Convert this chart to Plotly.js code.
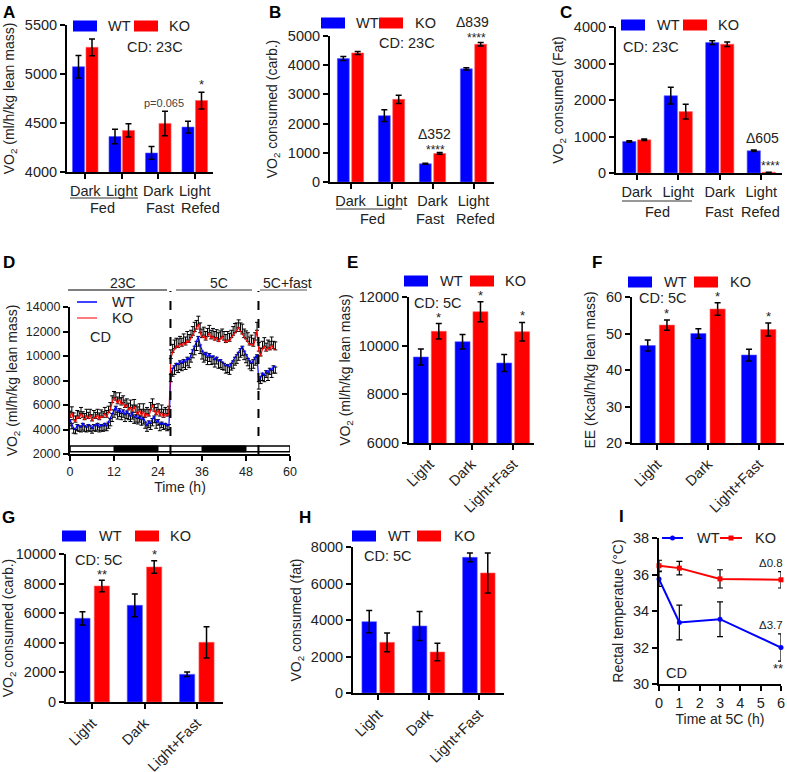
<!DOCTYPE html>
<html>
<head>
<meta charset="utf-8">
<script src="https://cdn.plot.ly/plotly-3.0.1.min.js"></script>
<style>html,body{margin:0;padding:0;background:#fff;}#chart{width:787px;height:772px;}</style>
</head>
<body>
<div id="chart"></div>
<script>
// ---------------- DATA ----------------
// Panel A: VO2 at 23C
const catsA = ['Dark', 'Light', 'Dark', 'Light'];
const groupsABC = ['Fed', 'Fast', 'Refed'];
const wtA = [5075, 4362, 4194, 4458];
const wtAErr = [115, 75, 65, 60];
const koA = [5272, 4424, 4496, 4729];
const koAErr = [85, 68, 125, 85];
// Panel B: VO2 consumed (carb.)
const wtB = [4227, 2273, 625, 3875];
const wtBErr = [70, 200, 20, 40];
const koB = [4420, 2830, 977, 4716];
const koBErr = [50, 140, 30, 60];
// Panel C: VO2 consumed (Fat)
const wtC = [864, 2118, 3573, 609];
const wtCErr = [20, 230, 50, 20];
const koC = [909, 1682, 3527, 20];
const koCErr = [20, 200, 60, 0];
// Panel D: time course
const timeD = [0,0.5,1,1.5,2,2.5,3,3.5,4,4.5,5,5.5,6,6.5,7,7.5,8,8.5,9,9.5,10,10.5,11,11.5,12,12.5,13,13.5,14,14.5,15,15.5,16,16.5,17,17.5,18,18.5,19,19.5,20,20.5,21,21.5,22,22.5,23,23.5,24,24.5,25,25.5,26,26.5,27,
27.5,28,28.5,29,29.5,30,30.5,31,31.5,32,32.5,33,33.5,34,34.5,35,35.5,36,36.5,37,37.5,38,38.5,39,39.5,40,40.5,41,41.5,42,42.5,43,43.5,44,44.5,45,45.5,46,46.5,47,47.5,48,48.5,49,49.5,50,50.5,51,
51.5,52,52.5,53,53.5,54,54.5,55,55.5,56];
const wtD = [4800,4500,4100,4000,4400,4300,4200,4500,4300,4200,4400,4300,4100,4400,4300,4500,4200,4400,4300,4500,4300,4600,4900,5300,5600,5900,5400,5700,5300,5600,5200,5500,5300,5100,5400,5000,5200,4900,5100,4800,5000,4600,4300,4700,4500,4900,5100,4600,4800,4400,4600,4400,4500,4300,4400,
8500,9000,9200,9400,9300,9600,9400,9700,9500,9900,9700,10200,10500,10800,11200,11600,10900,10400,10100,10300,9900,10200,9900,10000,9700,9900,9600,9700,9500,9400,9200,9300,9100,9400,9600,9900,10100,10300,10600,10800,10400,10100,9800,9600,9400,9700,9900,10100,
7900,8300,8600,8400,8800,8600,9000,8800,9200,9100];
const wtDErr = [500,450,400,350,500,450,400,550,450,400,500,450,400,500,450,550,400,500,450,550,400,500,600,650,600,700,550,650,500,600,550,600,500,450,550,500,600,450,500,450,550,500,450,550,500,600,550,500,450,500,450,400,450,400,400,
600,650,700,600,650,700,600,650,600,700,650,700,650,700,750,800,700,650,600,650,600,650,600,650,600,550,600,650,600,550,600,650,600,550,600,650,700,650,700,750,700,650,600,650,600,700,650,700,
600,550,600,500,550,600,500,550,600,500];
const koD = [5000,5400,4800,4600,5100,4900,5300,5000,4800,5100,4900,5200,4700,5000,4900,5200,4800,5100,5000,5300,5000,5400,5600,6200,6600,6400,6100,6500,6000,6200,5800,6000,5600,5800,5500,5900,5400,5200,5600,5100,5500,5000,5300,5100,5600,6000,5500,5200,5600,5100,5400,5000,5300,5100,5300,
9800,10300,10600,10800,10700,11000,10800,11100,10900,11300,11100,11500,11700,12000,12200,12600,11900,11500,11700,11300,11600,11900,11400,11600,11300,11500,11200,11400,11600,11300,11100,11300,11200,11500,11700,11900,12000,12300,12000,11800,11500,11400,11200,10900,11000,10800,11300,12100,
10400,10000,10600,10800,10400,10700,10500,10900,10600,10500];
const koDErr = [500,450,550,500,450,550,500,450,500,550,500,450,500,550,500,450,550,500,450,500,550,500,600,550,500,600,550,500,600,550,600,500,550,600,500,550,600,650,500,550,600,650,500,550,600,500,550,600,500,550,600,650,500,550,600,
700,650,700,650,700,600,650,700,650,700,650,600,700,750,700,650,800,700,650,700,650,600,700,650,700,650,700,650,600,700,650,700,650,600,700,750,700,650,700,800,700,650,700,650,700,650,600,650,
700,650,600,700,650,600,700,650,600,650];
const darkPhasesD = [[12, 24], [36, 48]];
const phaseLabelsD = ['23C', '5C', '5C+fast'];
const phaseSwitchD = [27.4, 51.4];
// Panels E-H: 5C
const cats5C = ['Light', 'Dark', 'Light+Fast'];
const wtE = [9534, 10164, 9288];
const wtEErr = [330, 300, 350];
const koE = [10589, 11397, 10575];
const koEErr = [320, 410, 380];
const wtF = [46.7, 50.0, 44.1];
const wtFErr = [1.5, 1.3, 1.6];
const koF = [52.3, 56.7, 51.1];
const koFErr = [1.4, 1.7, 1.8];
const wtG = [5653, 6532, 1870];
const wtGErr = [450, 770, 150];
const koG = [7838, 9122, 4032];
const koGErr = [390, 430, 1060];
const wtH = [3909, 3671, 7434];
const wtHErr = [610, 790, 240];
const koH = [2776, 2247, 6575];
const koHErr = [510, 480, 1100];
// Panel I: rectal temperature
const timeI = [0, 1, 3, 6];
const wtI = [35.75, 33.37, 33.55, 32.0];
const wtIErr = [0.4, 0.95, 0.95, 0.75];
const koI = [36.48, 36.35, 35.76, 35.71];
const koIErr = [0.3, 0.37, 0.5, 0.45];

// ---------------- STYLE / HELPERS ----------------
const W = 787, H = 772;
const BLUE = '#0000FF', RED = '#FF0000', TXT = '#222222';
const FONT = 'Arial, "Liberation Sans", sans-serif';
const TICK = 14.5, LEG = 14.5;
const px = (a, b) => [a / W, b / W];
const py = (top, bottom) => [1 - bottom / H, 1 - top / H];
const X = v => v / W;
const Y = v => 1 - v / H;

const annotations = [];
const shapes = [];
const traces = [];

function label(x, y, text, size, opts) {
  annotations.push(Object.assign({
    xref: 'paper', yref: 'paper', x: X(x), y: Y(y), text: text, showarrow: false,
    xanchor: 'center', yanchor: 'middle', font: {family: FONT, size: size || 14, color: TXT}
  }, opts || {}));
}
function rectPx(x0, y0, x1, y1, color) {
  shapes.push({type: 'rect', xref: 'paper', yref: 'paper', x0: X(x0), x1: X(x1), y0: Y(y1), y1: Y(y0),
    fillcolor: color, line: {width: 0}});
}
function linePx(x0, y0, x1, y1, color, width, dash) {
  shapes.push({type: 'line', xref: 'paper', yref: 'paper', x0: X(x0), x1: X(x1), y0: Y(y0), y1: Y(y1),
    line: {color: color || '#000', width: width || 1.5, dash: dash || 'solid'}});
}
function barLegend(bx, wx, rx, kx, y) {
  rectPx(bx, y - 5.5, bx + 24, y + 5.5, BLUE);
  label(wx, y, 'WT', LEG, {xanchor: 'left'});
  rectPx(rx, y - 5.5, rx + 24, y + 5.5, RED);
  label(kx, y, 'KO', LEG, {xanchor: 'left'});
}
function axSuffix(n) { return n === 1 ? '' : String(n); }

function barPair(n, cats, wt, wtErr, ko, koErr, w, g) {
  const xs = cats.map((_, i) => i);
  const s = axSuffix(n);
  const eb = arr => ({type: 'data', array: arr, color: '#000', thickness: 1.5, width: 3});
  traces.push({type: 'bar', name: 'WT', x: xs, y: wt, width: w, offset: -(w + g / 2),
    marker: {color: BLUE, line: {color: '#5a5aff', width: 0.6}}, error_y: eb(wtErr),
    xaxis: 'x' + s, yaxis: 'y' + s, showlegend: false, hoverinfo: 'y'});
  traces.push({type: 'bar', name: 'KO', x: xs, y: ko, width: w, offset: g / 2,
    marker: {color: RED, line: {color: '#ff6060', width: 0.6}}, error_y: eb(koErr),
    xaxis: 'x' + s, yaxis: 'y' + s, showlegend: false, hoverinfo: 'y'});
  return {wtC: -(w + g) / 2, koC: (w + g) / 2};
}
function starAt(n, xval, yval, text, size, yshift) {
  const s = axSuffix(n);
  annotations.push({xref: 'x' + s, yref: 'y' + s, x: xval, y: yval, text: text, showarrow: false,
    xanchor: 'center', yanchor: 'bottom', yshift: yshift === undefined ? 0 : yshift,
    font: {family: FONT, size: size || 13, color: TXT}});
}

const baseAxis = {
  showline: true, linecolor: '#000', linewidth: 2, mirror: false,
  ticks: 'outside', ticklen: 5, tickwidth: 2, tickcolor: '#000',
  showgrid: false, zeroline: false, fixedrange: true,
  tickformat: 'd', exponentformat: 'none', separatethousands: false,
  tickfont: {family: FONT, size: TICK, color: TXT}
};
function ax(extra) { return Object.assign({}, baseAxis, extra); }
function ytitle(text, standoff, size) {
  return {text: text, standoff: standoff, font: {family: FONT, size: size || 14, color: TXT}};
}

const layout = {
  width: W, height: H, margin: {l: 0, r: 0, t: 0, b: 0},
  paper_bgcolor: '#fff', plot_bgcolor: 'rgba(0,0,0,0)',
  showlegend: false, barmode: 'overlay',
  font: {family: FONT, color: TXT},
  annotations: annotations, shapes: shapes
};

const idx4 = catsA.map((_, i) => i);
const idx3 = cats5C.map((_, i) => i);

// ---- Panel A ----
layout.xaxis = ax({domain: px(67, 213), anchor: 'y', range: [-0.5, 3.5], tickvals: idx4, ticktext: catsA});
layout.yaxis = ax({domain: py(25, 172), anchor: 'x', range: [4000, 5500], dtick: 500,
  title: ytitle('VO<sub>2</sub> (ml/h/kg lean mass)', 7)});
let cA = barPair(1, catsA, wtA, wtAErr, koA, koAErr, 0.33, 0.04);
label(164, 103, 'p=0.065', 11, {font: {family: FONT, size: 11, color: '#444'}});
starAt(1, 3 + cA.koC, koA[3] + koAErr[3], '*', 13, -2);
barLegend(73, 106, 134, 167, 26);
label(155, 47, 'CD: 23C', 14.5);

// ---- Panel B ----
layout.xaxis2 = ax({domain: px(330, 494), anchor: 'y2', range: [-0.5, 3.5], tickvals: idx4, ticktext: catsA});
layout.yaxis2 = ax({domain: py(36, 182), anchor: 'x2', range: [0, 5000], dtick: 1000,
  title: ytitle('VO<sub>2</sub> consumed (carb.)', 7)});
barPair(2, catsA, wtB, wtBErr, koB, koBErr, 0.29, 0.06);
label(435, 150, '****', 12);
label(434, 134, '\u0394352', 14);
label(476, 38, '****', 12);
label(472, 22, '\u0394839', 14);
barLegend(321, 354, 379, 413, 23);
label(407, 43, 'CD: 23C', 14.5);

// ---- Panel C ----
layout.xaxis3 = ax({domain: px(616, 782), anchor: 'y3', range: [-0.5, 3.5], tickvals: idx4, ticktext: catsA});
layout.yaxis3 = ax({domain: py(27, 173), anchor: 'x3', range: [0, 4000], dtick: 1000,
  title: ytitle('VO<sub>2</sub> consumed (Fat)', 7)});
barPair(3, catsA, wtC, wtCErr, koC, koCErr, 0.32, 0.04);
label(770, 166, '****', 12);
label(762, 138, '\u0394605', 14);
barLegend(621, 655, 683, 716, 25);
label(651, 47, 'CD: 23C', 14.5);

// Fed / Fast / Refed second-row labels for A, B, C
[[70, 138, 198, 102, 160, 200, 208],
 [336, 402, 209, 372, 430, 475, 219],
 [622, 692, 201, 657, 719, 760, 212]].forEach(r => {
  linePx(r[0], r[2], r[1], r[2], '#333', 1.2);
  label(r[3], r[6], groupsABC[0], TICK);
  label(r[4], r[6], groupsABC[1], TICK);
  label(r[5], r[6], groupsABC[2], TICK);
});

// ---- Panel D ----
const DT = 12.5;
layout.xaxis4 = ax({domain: px(70, 290), anchor: 'y4', range: [0, 60], dtick: 12, tickfont: {family: FONT, size: DT, color: TXT},
  title: {text: 'Time (h)', standoff: 2, font: {family: FONT, size: 14, color: TXT}}});
layout.yaxis4 = ax({domain: py(307, 454), anchor: 'x4', range: [2000, 14000], dtick: 2000, tickfont: {family: FONT, size: DT, color: TXT},
  title: ytitle('VO<sub>2</sub> (ml/h/kg lean mass)', 5, 14)});
traces.push({type: 'scatter', mode: 'lines', name: 'WT', x: timeD, y: wtD, xaxis: 'x4', yaxis: 'y4',
  line: {color: BLUE, width: 1.2},
  error_y: {type: 'data', symmetric: false, array: wtD.map(() => 0), arrayminus: wtDErr, color: '#000', thickness: 1, width: 2},
  showlegend: false});
traces.push({type: 'scatter', mode: 'lines', name: 'KO', x: timeD, y: koD, xaxis: 'x4', yaxis: 'y4',
  line: {color: RED, width: 1.2},
  error_y: {type: 'data', symmetric: false, array: koDErr, arrayminus: koD.map(() => 0), color: '#000', thickness: 1, width: 2},
  showlegend: false});
// light/dark bar
shapes.push({type: 'rect', xref: 'x4', yref: 'y4', x0: 0, x1: 60, y0: 2180, y1: 2650, fillcolor: '#fff', line: {color: '#000', width: 1.5}});
darkPhasesD.forEach(p => shapes.push({type: 'rect', xref: 'x4', yref: 'y4', x0: p[0], x1: p[1], y0: 2180, y1: 2650, fillcolor: '#000', line: {color: '#000', width: 1}}));
phaseSwitchD.forEach(t => shapes.push({type: 'line', xref: 'x4', yref: 'paper', x0: t, x1: t, y0: Y(454), y1: Y(291),
  line: {color: '#000', width: 2, dash: 'dash'}}));
linePx(68, 290, 167, 290, '#000', 1.2);
linePx(176, 290, 252, 290, '#777', 1.5);
linePx(260, 290, 307, 290, '#555', 1.2);
label(123, 283, phaseLabelsD[0], 14);
label(219, 283, phaseLabelsD[1], 14);
label(287, 283, phaseLabelsD[2], 14);
linePx(77, 302, 97, 302, BLUE, 1.5);
label(110, 302, 'WT', LEG, {xanchor: 'left'});
linePx(77, 318, 97, 318, '#ff5050', 1.5);
label(110, 318, 'KO', LEG, {xanchor: 'left'});
label(100, 337, 'CD', LEG);

// ---- Panel E ----
layout.xaxis5 = ax({domain: px(409, 534), anchor: 'y5', range: [-0.5, 2.5], tickvals: idx3, ticktext: cats5C, tickangle: -45});
layout.yaxis5 = ax({domain: py(297, 443), anchor: 'x5', range: [6000, 12000], dtick: 2000,
  title: ytitle('VO<sub>2</sub> (ml/h/kg lean mass)', 5)});
let cE = barPair(5, cats5C, wtE, wtEErr, koE, koEErr, 0.36, 0.07);
idx3.forEach(i => starAt(5, i + cE.koC, koE[i] + koEErr[i], '*', 13, -3));
barLegend(404, 438, 470, 503, 281);
label(412, 303, 'CD: 5C', LEG, {xanchor: 'left'});

// ---- Panel F ----
layout.xaxis6 = ax({domain: px(632, 784), anchor: 'y6', range: [-0.5, 2.5], tickvals: idx3, ticktext: cats5C, tickangle: -45});
layout.yaxis6 = ax({domain: py(297, 443), anchor: 'x6', range: [20, 60], dtick: 10,
  title: ytitle('EE (Kcal/h/kg lean mass)', 7)});
let cF = barPair(6, cats5C, wtF, wtFErr, koF, koFErr, 0.30, 0.08);
idx3.forEach(i => starAt(6, i + cF.koC, koF[i] + koFErr[i], '*', 13, -3));
barLegend(628, 662, 694, 728, 282);
label(637, 298, 'CD: 5C', LEG, {xanchor: 'left'});

// ---- Panel G ----
layout.xaxis7 = ax({domain: px(66, 223), anchor: 'y7', range: [-0.5, 2.5], tickvals: idx3, ticktext: cats5C, tickangle: -45});
layout.yaxis7 = ax({domain: py(554, 702), anchor: 'x7', range: [0, 10000], dtick: 2000,
  title: ytitle('VO<sub>2</sub> consumed (carb.)', 5)});
let cG = barPair(7, cats5C, wtG, wtGErr, koG, koGErr, 0.29, 0.08);
starAt(7, 0 + cG.koC, koG[0] + koGErr[0], '**', 13, -4);
starAt(7, 1 + cG.koC, koG[1] + koGErr[1], '*', 13, -3);
barLegend(62, 97, 135, 168, 536);
label(73, 560, 'CD: 5C', LEG, {xanchor: 'left'});

// ---- Panel H ----
layout.xaxis8 = ax({domain: px(353, 504), anchor: 'y8', range: [-0.5, 2.5], tickvals: idx3, ticktext: cats5C, tickangle: -45});
layout.yaxis8 = ax({domain: py(547, 693), anchor: 'x8', range: [0, 8000], dtick: 2000,
  title: ytitle('VO<sub>2</sub> consumed (fat)', 6)});
barPair(8, cats5C, wtH, wtHErr, koH, koHErr, 0.29, 0.065);
barLegend(352, 386, 417, 452, 536);
label(362, 556, 'CD: 5C', LEG, {xanchor: 'left'});

// ---- Panel I ----
layout.xaxis9 = ax({domain: px(659, 781), anchor: 'y9', range: [0, 6], dtick: 1,
  title: {text: 'Time at 5C (h)', standoff: 4, font: {family: FONT, size: 14, color: TXT}}});
layout.yaxis9 = ax({domain: py(538, 684), anchor: 'x9', range: [30, 38], dtick: 2,
  title: ytitle('Rectal temperatue (\u00B0C)', 6)});
traces.push({type: 'scatter', mode: 'lines+markers', name: 'WT', x: timeI, y: wtI, xaxis: 'x9', yaxis: 'y9',
  line: {color: BLUE, width: 2}, marker: {color: BLUE, size: 5, symbol: 'circle'}, cliponaxis: false,
  error_y: {type: 'data', array: wtIErr, color: '#000', thickness: 1.2, width: 3}, showlegend: false});
traces.push({type: 'scatter', mode: 'lines+markers', name: 'KO', x: timeI, y: koI, xaxis: 'x9', yaxis: 'y9',
  line: {color: RED, width: 2}, marker: {color: RED, size: 5, symbol: 'square'}, cliponaxis: false,
  error_y: {type: 'data', array: koIErr, color: '#000', thickness: 1.2, width: 3}, showlegend: false});
linePx(662, 538, 683, 538, BLUE, 2);
shapes.push({type: 'circle', xref: 'paper', yref: 'paper', x0: X(670), x1: X(675), y0: Y(540.5), y1: Y(535.5), fillcolor: BLUE, line: {width: 0}});
label(695, 538, 'WT', LEG, {xanchor: 'left'});
linePx(720, 538, 742, 538, RED, 2);
rectPx(728.5, 535.5, 733.5, 540.5, RED);
label(753, 538, 'KO', LEG, {xanchor: 'left'});
label(785, 563, '\u03940.8', 11.5, {xanchor: 'right'});
label(785, 625, '\u03943.7', 11.5, {xanchor: 'right'});
label(778, 668, '**', 13);
label(664, 673, 'CD', LEG, {xanchor: 'left'});

// ---- Panel letters ----
[['A', 9, 12], ['B', 275, 12], ['C', 566, 12], ['D', 9, 262], ['E', 352, 262], ['F', 597, 262],
 ['G', 8, 517], ['H', 305, 517], ['I', 621, 516]].forEach(l => {
  label(l[1], l[2], '<b>' + l[0] + '</b>', 17, {font: {family: FONT, size: 17, color: '#000'}});
});

Plotly.newPlot('chart', traces, layout, {staticPlot: true, displayModeBar: false});
</script>
</body>
</html>
